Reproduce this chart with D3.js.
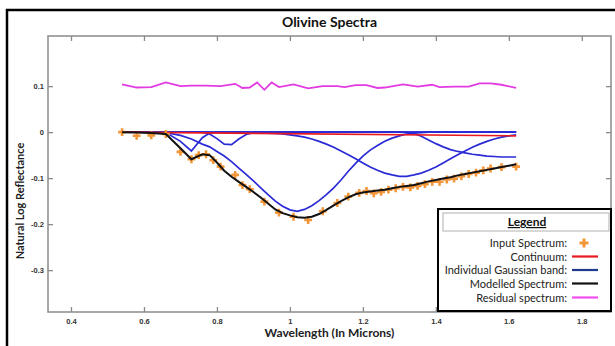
<!DOCTYPE html>
<html>
<head>
<meta charset="utf-8">
<script src="https://cdn.jsdelivr.net/npm/d3@7"></script>
<style>
  body { margin: 0; background: #fff; }
  svg { display: block; font-family: Lato, "Open Sans", sans-serif; }
</style>
</head>
<body>
<div id="vis"></div>
<script>
// wavelength grid (microns) shared by the fitted curves
var wl = [0.54, 0.58, 0.62, 0.66, 0.70, 0.73, 0.76, 0.78, 0.80, 0.82, 0.84, 0.86, 0.88, 0.90, 0.92, 0.94, 0.96, 0.98, 1.00, 1.02,
  1.04, 1.06, 1.08, 1.10, 1.12, 1.14, 1.16, 1.18, 1.20, 1.22, 1.24, 1.26, 1.28, 1.30, 1.32, 1.34, 1.36, 1.38, 1.40, 1.42,
  1.44, 1.46, 1.48, 1.50, 1.52, 1.54, 1.56, 1.58, 1.60, 1.62];

// individual gaussian bands
var bandA = [0, 0, 0, -0.001, -0.020, -0.041, -0.012, -0.002, 0, 0, 0, 0, 0, 0, 0, 0, 0, 0, 0, 0,
  0, 0, 0, 0, 0, 0, 0, 0, 0, 0, 0, 0, 0, 0, 0, 0, 0, 0, 0, 0,
  0, 0, 0, 0, 0, 0, 0, 0, 0, 0];
var bandB = [0, 0, 0, 0, 0, 0, 0, -0.004, -0.014, -0.026, -0.027, -0.015, -0.005, -0.001, 0, 0, 0, 0, 0, 0,
  0, 0, 0, 0, 0, 0, 0, 0, 0, 0, 0, 0, 0, 0, 0, 0, 0, 0, 0, 0,
  0, 0, 0, 0, 0, 0, 0, 0, 0, 0];
var bandC = [0, 0, 0, -0.001, -0.007, -0.015, -0.026, -0.032, -0.042, -0.052, -0.064, -0.078, -0.092, -0.106, -0.121, -0.136, -0.150, -0.161, -0.169, -0.172,
  -0.168, -0.160, -0.149, -0.136, -0.121, -0.104, -0.085, -0.068, -0.052, -0.039, -0.029, -0.020, -0.013, -0.008, -0.004, -0.002, -0.001, 0, 0, 0,
  0, 0, 0, 0, 0, 0, 0, 0, 0, 0];
var bandD = [0, 0, 0, 0, 0, 0, 0, 0, 0, 0, 0, 0, 0, -0.001, -0.001, -0.002, -0.003, -0.004, -0.006, -0.008,
  -0.011, -0.015, -0.020, -0.026, -0.033, -0.041, -0.049, -0.058, -0.067, -0.076, -0.083, -0.089, -0.093, -0.096, -0.096, -0.093, -0.089, -0.083, -0.076, -0.067,
  -0.058, -0.049, -0.041, -0.033, -0.026, -0.020, -0.015, -0.011, -0.008, -0.006];
var bandE = [0, 0, 0, 0, 0, 0, 0, 0, 0, 0, 0, 0, 0, 0, 0, 0, 0, 0, 0, 0,
  0, 0, 0, 0, 0, 0, 0, 0, 0, 0, 0, 0, 0, 0, -0.001, -0.003, -0.009, -0.017, -0.025, -0.032,
  -0.038, -0.042, -0.045, -0.048, -0.050, -0.052, -0.053, -0.054, -0.054, -0.054];

// modelled spectrum
var model = [0, -0.001, -0.002, -0.004, -0.035, -0.059, -0.048, -0.050, -0.066, -0.084, -0.097, -0.108, -0.119, -0.130, -0.142, -0.155, -0.168, -0.176, -0.181, -0.185,
  -0.186, -0.184, -0.178, -0.169, -0.159, -0.150, -0.142, -0.135, -0.131, -0.129, -0.127, -0.125, -0.122, -0.119, -0.117, -0.115, -0.111, -0.107, -0.104, -0.101,
  -0.098, -0.094, -0.091, -0.088, -0.085, -0.082, -0.079, -0.076, -0.073, -0.070];

// continuum
var contW = [0.54, 1.62];
var contV = [0, -0.008];

// input spectrum
var inW = [0.54, 0.58, 0.62, 0.66, 0.70, 0.73, 0.75, 0.77, 0.79, 0.81, 0.85, 0.87, 0.89, 0.93, 0.97, 1.01, 1.05, 1.09, 1.13, 1.16,
  1.19, 1.21, 1.23, 1.25, 1.27, 1.29, 1.31, 1.33, 1.35, 1.37, 1.39, 1.41, 1.43, 1.45, 1.47, 1.49, 1.51, 1.53, 1.55, 1.58, 1.62];
var inV = [0, -0.008, -0.007, -0.004, -0.043, -0.059, -0.050, -0.048, -0.061, -0.075, -0.093, -0.115, -0.124, -0.151, -0.175, -0.184, -0.191, -0.172, -0.154, -0.140,
  -0.132, -0.128, -0.133, -0.130, -0.125, -0.122, -0.119, -0.120, -0.117, -0.113, -0.108, -0.108, -0.103, -0.101, -0.096, -0.091, -0.088, -0.083, -0.079, -0.076, -0.075];

// residual spectrum
var resW = [0.54, 0.58, 0.62, 0.66, 0.70, 0.73, 0.77, 0.81, 0.85, 0.87, 0.89, 0.91, 0.93, 0.95, 0.97, 1.01, 1.05, 1.09, 1.13, 1.15,
  1.18, 1.21, 1.24, 1.26, 1.31, 1.35, 1.39, 1.41, 1.45, 1.49, 1.52, 1.55, 1.58, 1.62];
var resV = [0.104, 0.097, 0.098, 0.108, 0.100, 0.101, 0.101, 0.100, 0.105, 0.096, 0.097, 0.108, 0.092, 0.108, 0.098, 0.104, 0.095, 0.100, 0.100, 0.098,
  0.102, 0.102, 0.096, 0.097, 0.104, 0.099, 0.103, 0.098, 0.099, 0.099, 0.106, 0.106, 0.103, 0.096];

var xTicks = [0.4, 0.6, 0.8, 1, 1.2, 1.4, 1.6, 1.8];
var yTicks = [-0.3, -0.2, -0.1, 0, 0.1];

var legendItems = ["Input Spectrum:", "Continuum:", "Individual Gaussian band:", "Modelled Spectrum:", "Residual spectrum:"];

var width = 615, height = 346;
var margin = { top: 36, right: 4, bottom: 34, left: 48 };

var svg = d3.select('#vis')
  .append('svg')
  .attr('width', width)
  .attr('height', height);

// outer figure frame
svg.append('rect')
  .attr('x', 7).attr('y', 10)
  .attr('width', 640).attr('height', 360)
  .attr('fill', 'none')
  .attr('stroke', '#000')
  .attr('stroke-width', 2.5);

var x = d3.scaleLinear().domain([0.337, 1.88]).range([margin.left, width - margin.right]);
var y = d3.scaleLinear().domain([-0.391, 0.209]).range([height - margin.bottom, margin.top]);

var axisColor = '#8a8a8a';

function styleAxis(g) {
  g.select('.domain').remove();
  g.selectAll('.tick line').attr('stroke', axisColor).attr('stroke-width', 1.3);
  g.selectAll('.tick text')
    .attr('fill', '#333')
    .attr('font-size', 7.5)
    .attr('font-weight', 'bold');
}

svg.append('g')
  .attr('transform', 'translate(0,' + y.range()[0] + ')')
  .call(d3.axisBottom(x).tickValues(xTicks).tickSizeInner(-5).tickSizeOuter(0).tickPadding(7).tickFormat(d3.format('~g')))
  .call(styleAxis);

svg.append('g')
  .attr('transform', 'translate(0,' + y.range()[1] + ')')
  .call(d3.axisTop(x).tickValues(xTicks).tickSizeInner(-5).tickSizeOuter(0).tickFormat(''))
  .call(styleAxis);

svg.append('g')
  .attr('transform', 'translate(' + x.range()[0] + ',0)')
  .call(d3.axisLeft(y).tickValues(yTicks).tickSizeInner(-5).tickSizeOuter(0).tickPadding(4)
    .tickFormat(function(d) { return d3.format('~g')(d).replace('\u2212', '-'); }))
  .call(styleAxis);

svg.append('g')
  .attr('transform', 'translate(' + x.range()[1] + ',0)')
  .call(d3.axisRight(y).tickValues(yTicks).tickSizeInner(-5).tickSizeOuter(0).tickFormat(''))
  .call(styleAxis);

// axes box
svg.append('rect')
  .attr('x', x.range()[0]).attr('y', y.range()[1])
  .attr('width', x.range()[1] - x.range()[0])
  .attr('height', y.range()[0] - y.range()[1])
  .attr('fill', 'none')
  .attr('stroke', axisColor)
  .attr('stroke-width', 1.5);

var line = d3.line()
  .x(function(d) { return x(d[0]); })
  .y(function(d) { return y(d[1]); });

function pairs(xs, ys) {
  return xs.map(function(v, i) { return [v, ys[i]]; });
}

var plot = svg.append('g');

[bandA, bandB, bandC, bandD, bandE].forEach(function(b) {
  plot.append('path')
    .attr('d', line(pairs(wl, b)))
    .attr('fill', 'none')
    .attr('stroke', '#2a2ad6')
    .attr('stroke-width', 1.7);
});

plot.append('path')
  .attr('d', line(pairs(contW, contV)))
  .attr('fill', 'none')
  .attr('stroke', '#e8191f')
  .attr('stroke-width', 1.7);

plot.selectAll('.inp')
  .data(pairs(inW, inV))
  .enter()
  .append('path')
  .attr('class', 'inp')
  .attr('transform', function(d) { return 'translate(' + x(d[0]) + ',' + y(d[1]) + ')'; })
  .attr('d', d3.symbol(d3.symbolCross, 34))
  .attr('fill', '#f3963a');

plot.append('path')
  .attr('d', line(pairs(wl, model)))
  .attr('fill', 'none')
  .attr('stroke', '#111')
  .attr('stroke-width', 2);

plot.append('path')
  .attr('d', line(pairs(resW, resV)))
  .attr('fill', 'none')
  .attr('stroke', '#e23be2')
  .attr('stroke-width', 1.8);

// titles
svg.append('text')
  .attr('x', (x.range()[0] + x.range()[1]) / 2)
  .attr('y', 27)
  .attr('text-anchor', 'middle')
  .attr('font-size', 14)
  .attr('font-weight', 'bold')
  .attr('fill', '#111')
  .text('Olivine Spectra');

svg.append('text')
  .attr('x', (x.range()[0] + x.range()[1]) / 2)
  .attr('y', 337)
  .attr('text-anchor', 'middle')
  .attr('font-size', 12)
  .attr('font-weight', 'bold')
  .attr('fill', '#222')
  .text('Wavelength (In Microns)');

svg.append('text')
  .attr('transform', 'translate(24,201) rotate(-90)')
  .attr('text-anchor', 'middle')
  .attr('font-size', 11)
  .attr('font-weight', 'bold')
  .attr('fill', '#222')
  .text('Natural Log Reflectance');

// legend
var lg = svg.append('g');
lg.append('rect')
  .attr('x', 438).attr('y', 209)
  .attr('width', 173).attr('height', 102)
  .attr('fill', '#fff')
  .attr('stroke', '#000')
  .attr('stroke-width', 2);
lg.append('rect')
  .attr('x', 443).attr('y', 213)
  .attr('width', 166).attr('height', 18)
  .attr('fill', '#fff')
  .attr('stroke', '#b0b0b0')
  .attr('stroke-width', 1);
lg.append('text')
  .attr('x', 527).attr('y', 226)
  .attr('text-anchor', 'middle')
  .attr('font-size', 12)
  .attr('font-weight', 'bold')
  .attr('text-decoration', 'underline')
  .attr('fill', '#111')
  .text('Legend');

var rowY = [243, 256.5, 270, 283.5, 297.5];
var rowColor = [null, '#e8191f', '#1f3a8c', '#111', '#f04ef0'];

lg.selectAll('.lt')
  .data(legendItems)
  .enter()
  .append('text')
  .attr('class', 'lt')
  .attr('x', 567)
  .attr('y', function(d, i) { return rowY[i] + 4; })
  .attr('text-anchor', 'end')
  .attr('font-size', 11)
  .attr('fill', '#222')
  .text(function(d) { return d; });

rowColor.forEach(function(c, i) {
  if (!c) return;
  lg.append('line')
    .attr('x1', 572).attr('x2', 598)
    .attr('y1', rowY[i]).attr('y2', rowY[i])
    .attr('stroke', c)
    .attr('stroke-width', 2.2);
});

lg.append('path')
  .attr('transform', 'translate(584,' + rowY[0] + ')')
  .attr('d', d3.symbol(d3.symbolCross, 45))
  .attr('fill', '#f3963a');
</script>
</body>
</html>
